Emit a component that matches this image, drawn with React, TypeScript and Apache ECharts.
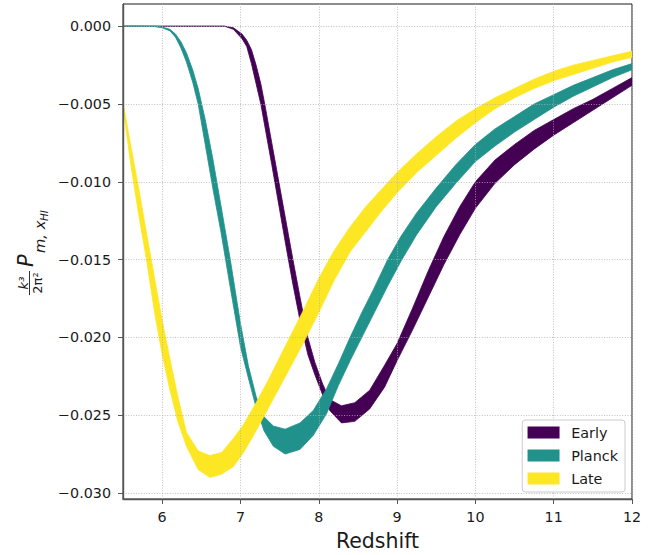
import React, { useEffect, useRef } from 'react';
import * as echarts from 'echarts';

const FONT = "'DejaVu Sans', sans-serif";
const TEXT = '#1a1a1a';

const xTicks = [6, 7, 8, 9, 10, 11, 12];
const yTicks = [-0.03, -0.025, -0.02, -0.015, -0.01, -0.005, 0];
const seriesNames = ['Early', 'Planck', 'Late'];
const seriesColors = ['#440154', '#21918c', '#fde725'];

const earlyZ = [5.5, 6.0, 6.5, 6.8, 6.91, 7.02, 7.08, 7.14, 7.2, 7.26, 7.31, 7.4, 7.49, 7.58, 7.67, 7.76, 7.86, 7.95, 8.05, 8.14, 8.29, 8.46, 8.65, 8.84, 9.0, 9.2, 9.4, 9.6, 9.8, 10.0, 10.25, 10.5, 10.75, 11.0, 11.25, 11.5, 11.75, 12.0];
const earlyHi = [0, 0, 0, 0, -0.0001, -0.0005, -0.0009, -0.0015, -0.0025, -0.0037, -0.005, -0.0075, -0.01, -0.0125, -0.015, -0.0174, -0.02, -0.0216, -0.023, -0.024, -0.0244, -0.0242, -0.0234, -0.0218, -0.0204, -0.0181, -0.0157, -0.0135, -0.0116, -0.01, -0.0086, -0.0076, -0.0067, -0.006, -0.0053, -0.0047, -0.004, -0.0033];
const earlyLo = [0, 0, 0, 0, -0.0002, -0.0008, -0.0013, -0.0024, -0.0037, -0.005, -0.0064, -0.0089, -0.0115, -0.0141, -0.0166, -0.0189, -0.0211, -0.0224, -0.0237, -0.0247, -0.0255, -0.0254, -0.0246, -0.0232, -0.0215, -0.0195, -0.0174, -0.0153, -0.0134, -0.0117, -0.0101, -0.0089, -0.0079, -0.007, -0.0062, -0.0054, -0.0046, -0.0038];

const planckZ = [5.5, 5.7, 5.9, 6.0, 6.1, 6.17, 6.24, 6.31, 6.39, 6.46, 6.55, 6.65, 6.75, 6.87, 7.0, 7.1, 7.2, 7.3, 7.42, 7.57, 7.76, 7.93, 8.1, 8.25, 8.4, 8.55, 8.7, 8.88, 9.05, 9.25, 9.5, 9.75, 10.0, 10.25, 10.5, 10.75, 11.0, 11.25, 11.5, 11.75, 12.0];
const planckHi = [0, 0, 0, -0.00005, -0.0002, -0.0005, -0.001, -0.0017, -0.0028, -0.004, -0.006, -0.0086, -0.0115, -0.015, -0.0191, -0.0218, -0.0238, -0.0251, -0.0257, -0.0259, -0.0255, -0.0247, -0.0233, -0.0217, -0.02, -0.0184, -0.0169, -0.015, -0.0135, -0.012, -0.0104, -0.0089, -0.0076, -0.0066, -0.0058, -0.005, -0.0044, -0.0038, -0.0033, -0.0028, -0.0024];
const planckLo = [0, 0, -0.00002, -0.0001, -0.0003, -0.0007, -0.0014, -0.0023, -0.0036, -0.005, -0.0076, -0.0105, -0.0132, -0.0168, -0.0206, -0.0226, -0.0245, -0.026, -0.027, -0.0275, -0.0272, -0.0263, -0.0249, -0.0231, -0.0215, -0.02, -0.0185, -0.0167, -0.0151, -0.0134, -0.0116, -0.0101, -0.0087, -0.0077, -0.0068, -0.006, -0.0052, -0.0045, -0.0039, -0.0033, -0.0028];

const lateZ = [5.5, 5.6, 5.7, 5.8, 5.9, 6.0, 6.1, 6.2, 6.31, 6.46, 6.61, 6.76, 6.91, 7.04, 7.2, 7.35, 7.5, 7.65, 7.8, 8.0, 8.2, 8.4, 8.6, 8.8, 9.0, 9.25, 9.5, 9.75, 10.0, 10.25, 10.5, 10.75, 11.0, 11.25, 11.5, 11.75, 12.0];
const lateHi = [-0.0049, -0.0077, -0.0104, -0.0133, -0.0161, -0.0189, -0.0214, -0.0238, -0.0261, -0.0273, -0.0276, -0.0274, -0.0265, -0.0256, -0.0242, -0.0228, -0.0213, -0.0198, -0.0183, -0.0162, -0.0144, -0.0129, -0.0116, -0.0105, -0.0094, -0.0082, -0.0071, -0.0061, -0.0053, -0.0046, -0.004, -0.0034, -0.0029, -0.0025, -0.0022, -0.0019, -0.0016];
const lateLo = [-0.0052, -0.0089, -0.0121, -0.015, -0.0183, -0.0211, -0.0234, -0.0254, -0.027, -0.0285, -0.029, -0.0288, -0.0283, -0.0274, -0.026, -0.0246, -0.0232, -0.0218, -0.0204, -0.0184, -0.0163, -0.0145, -0.0132, -0.0119, -0.0107, -0.0094, -0.0083, -0.0072, -0.0062, -0.0053, -0.0046, -0.004, -0.0035, -0.0031, -0.0027, -0.0023, -0.002];

function band(name: string, color: string, zs: number[], lo: number[], hi: number[]) {
  return {
    type: 'custom',
    name,
    clip: true,
    itemStyle: { color },
    data: zs.map((z, i) => [z, lo[i], hi[i]]),
    encode: { x: 0, y: [1, 2] },
    renderItem: (params: any, api: any) => {
      if (params.dataIndex !== 0) return null;
      const pts: number[][] = [];
      for (let i = 0; i < zs.length; i++) pts.push(api.coord([zs[i], hi[i]]));
      for (let i = zs.length - 1; i >= 0; i--) pts.push(api.coord([zs[i], lo[i]]));
      return {
        type: 'polygon',
        shape: { points: pts },
        style: { fill: color, stroke: color, lineWidth: 0.8 },
      };
    },
  };
}

const fmtY = (v: number) => {
  if (Math.abs(v) < 1e-12) return '0.000';
  return v.toFixed(3).replace('-', '\u2212');
};

export default function App() {
  const ref = useRef<HTMLDivElement>(null);
  useEffect(() => {
    document.body.style.margin = '0';
    const chart = echarts.init(ref.current as HTMLDivElement, null, { renderer: 'svg' });
    const gridLine = { show: true, lineStyle: { color: '#b0b0b0', width: 0.8, type: [1, 1.6] } };
    const option: any = {
      animation: false,
      backgroundColor: '#ffffff',
      textStyle: { fontFamily: FONT },
      grid: {
        left: 123, right: 33, top: 4, bottom: 56,
        show: true, borderColor: '#1a1a1a', borderWidth: 1, backgroundColor: 'transparent',
        containLabel: false, outerBoundsMode: 'none',
      },
      xAxis: {
        type: 'value', min: 5.5, max: 12, z: 3,
        name: 'Redshift', nameLocation: 'middle', nameGap: 31,
        nameTextStyle: { fontSize: 20.5, color: TEXT, fontFamily: FONT },
        axisLine: { show: true, onZero: false, lineStyle: { color: '#555555', width: 1.4 } },
        axisTick: { show: true, length: 5, customValues: xTicks, lineStyle: { color: '#555555', width: 1 } },
        axisLabel: { customValues: xTicks, margin: 11, fontSize: 14.3, color: TEXT, fontFamily: FONT, formatter: (v: number) => String(v) },
        splitLine: gridLine,
      },
      yAxis: {
        type: 'value', min: -0.03039, max: 0.00143, z: 3,
        axisLine: { show: true, onZero: false, lineStyle: { color: '#555555', width: 1.4 } },
        axisTick: { show: true, length: 5, customValues: yTicks, lineStyle: { color: '#555555', width: 1 } },
        axisLabel: { customValues: yTicks, margin: 12, fontSize: 14.3, color: TEXT, fontFamily: FONT, formatter: fmtY },
        splitLine: gridLine,
      },
      legend: {
        orient: 'vertical', right: 40, bottom: 63,
        itemWidth: 32, itemHeight: 12, itemGap: 9,
        padding: [5.5, 7, 6.5, 5.3],
        borderColor: '#cccccc', borderWidth: 1, borderRadius: 3,
        backgroundColor: 'rgba(255,255,255,0.8)',
        textStyle: { fontSize: 14.4, color: TEXT, fontFamily: FONT, lineHeight: 12, padding: [0, 0, 0, 6.6] },
        data: seriesNames.map((n, i) => ({ name: n, icon: 'rect', itemStyle: { color: seriesColors[i] } })),
      },
      graphic: [
        {
          type: 'group', x: 37, y: 300, rotation: Math.PI / 2, silent: true,
          children: [
            { type: 'text', x: 17, y: -14, style: { text: 'k³', fontSize: 13, fontStyle: 'italic', fontFamily: FONT, fill: TEXT, align: 'center', verticalAlign: 'middle' } },
            { type: 'line', shape: { x1: 5, y1: -7.5, x2: 29, y2: -7.5 }, style: { stroke: TEXT, lineWidth: 0.9 } },
            { type: 'text', x: 17, y: 0, style: { text: '2π²', fontSize: 13, fontFamily: FONT, fill: TEXT, align: 'center', verticalAlign: 'middle' } },
            { type: 'text', x: 33, y: -11, style: { text: 'P', fontSize: 21, fontStyle: 'italic', fontFamily: FONT, fill: TEXT, align: 'left', verticalAlign: 'middle' } },
            { type: 'text', x: 47, y: 2, style: { text: 'm, x', fontSize: 14.7, fontStyle: 'italic', fontFamily: FONT, fill: TEXT, align: 'left', verticalAlign: 'middle' } },
            { type: 'text', x: 79, y: 7, style: { text: 'HI', fontSize: 10.3, fontStyle: 'italic', fontFamily: FONT, fill: TEXT, align: 'left', verticalAlign: 'middle' } },
          ],
        },
      ],
      series: [
        band(seriesNames[0], seriesColors[0], earlyZ, earlyLo, earlyHi),
        band(seriesNames[1], seriesColors[1], planckZ, planckLo, planckHi),
        band(seriesNames[2], seriesColors[2], lateZ, lateLo, lateHi),
      ],
    };
    chart.setOption(option);
    return () => chart.dispose();
  }, []);
  return <div ref={ref} style={{ width: 665, height: 555 }} />;
}
